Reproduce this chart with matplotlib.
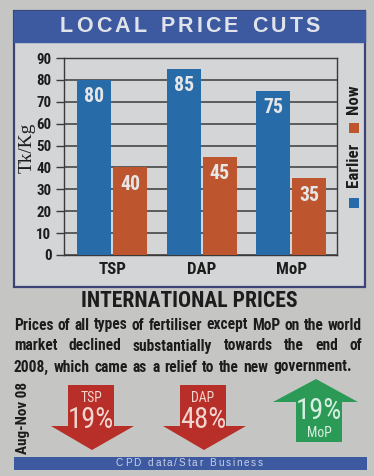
import matplotlib
matplotlib.use("Agg")
import matplotlib.pyplot as plt
from matplotlib.patches import Rectangle, Polygon
from matplotlib import font_manager
import numpy as np

# ---------------- data ----------------
categories = ["TSP", "DAP", "MoP"]
earlier = [80, 85, 75]
now = [40, 45, 35]
yticks = [0, 10, 20, 30, 40, 50, 60, 70, 80, 90]
ylabel = "Tk/Kg"
series_names = ["Earlier", "Now"]

intl_labels = ["TSP", "DAP", "MoP"]
intl_change = [-19, -48, 19]

title = "LOCAL PRICE CUTS"
subtitle = "INTERNATIONAL PRICES"
paragraph = ["Prices of all types of fertiliser except MoP on the world",
             "market declined substantially towards the end of",
             "2008, which came as a relief to the new government."]
period = "Aug-Nov 08"
source = "CPD data/Star Business"

# ---------------- style ----------------
BG = "#c5c6c3"
PANEL = "#d3d5d6"
NAVY = "#3b4377"
BANNER = "#3d5aa0"
BLUE = "#276ca9"
ORANGE = "#bd552e"
RED = "#b82e29"
GREEN = "#2c9a57"
GRID = "#3a3a3a"
TXT = "#1c1c1c"

# pick a condensed sans if one is installed
fl = font_manager.fontManager.ttflist
names = {f.name for f in fl}
NK = None
for cand in ["Liberation Sans Narrow", "Roboto Condensed", "Open Sans Condensed",
             "Noto Sans Condensed", "Arial Narrow"]:
    if cand in names:
        NK = dict(family=cand)
        break
if NK is None:
    if any(f.name == "DejaVu Sans" and f.stretch in ("condensed", "semi-condensed") for f in fl):
        NK = dict(family="DejaVu Sans", stretch="condensed")
    else:
        NK = dict(family="Liberation Sans")
NB = dict(NK, weight="bold")
SANS = dict(family="Liberation Sans")
SERIF = dict(family="Liberation Serif")

W, H = 374, 476
fig = plt.figure(figsize=(W / 100, H / 100), dpi=100)
fig.patch.set_facecolor(BG)

bg = fig.add_axes([0, 0, 1, 1], zorder=0)
bg.set_xlim(0, W)
bg.set_ylim(H, 0)
bg.axis("off")

renderer = fig.canvas.get_renderer()


def width_of(s, size, **kw):
    t = bg.text(0, 0, s, fontsize=size, **kw)
    w = t.get_window_extent(renderer).width
    t.remove()
    return w


def fit(s, target, **kw):
    return 10.0 * target / width_of(s, 10.0, **kw)


def tracked(s, x0, x1, y, size, **kw):
    ws = [width_of(c, size, **kw) if c != " " else width_of("n", size, **kw) * 0.6 for c in s]
    gap = (x1 - x0 - sum(ws)) / (len(s) - 1)
    x = x0
    for c, w in zip(s, ws):
        if c != " ":
            bg.text(x, y, c, ha="left", va="center", fontsize=size, **kw)
        x += w + gap


def justified(s, x0, x1, y, size, **kw):
    words = s.split(" ")
    ws = [width_of(w_, size, **kw) for w_ in words]
    gap = (x1 - x0 - sum(ws)) / (len(words) - 1)
    x = x0
    for w_, w in zip(words, ws):
        bg.text(x, y, w_, ha="left", va="center", fontsize=size, **kw)
        x += w + gap


# chart frame + banner
bg.add_patch(Rectangle((14, 11), 351, 276, fc=PANEL, ec=NAVY, lw=1.6))
bg.add_patch(Rectangle((14, 11), 351, 31, fc=BANNER, ec=BANNER, lw=1))
tracked(title, 60, 320, 27, 15.5, color="#e1e3ea", weight="bold", **SANS)

# ---------------- bar chart ----------------
ax = fig.add_axes([64 / W, 1 - 255 / H, 273 / W, 197 / H], zorder=2)
ax.set_facecolor(PANEL)
x = np.arange(len(categories))
bw = 0.38
off = 0.2
b1 = ax.bar(x - off, earlier, bw, color=BLUE, zorder=3, label=series_names[0])
b2 = ax.bar(x + off, now, bw, color=ORANGE, zorder=3, label=series_names[1])
vsize = fit("80", 20, **NB)
for bars, vals in ((b1, earlier), (b2, now)):
    for r, v in zip(bars, vals):
        ax.text(r.get_x() + r.get_width() / 2, v - 7.6, f"{v}", ha="center", va="center",
                color="#e6e6e6", fontsize=vsize, zorder=4, **NB)
ax.set_xlim(-0.54, 2.51)
ax.set_ylim(0, 90)
ax.set_yticks(yticks)
ysize = fit("90", 15, **NB)
ax.set_yticklabels([str(t) for t in yticks], fontsize=ysize, color=TXT, **NB)
ax.set_xticks(x)
xsize = fit("TSP", 28, **NB)
ax.set_xticklabels(categories, fontsize=xsize, color=TXT, **NB)
ax.tick_params(axis="y", direction="out", length=6, width=1, color=GRID, pad=3)
ax.tick_params(axis="x", length=0, pad=5)
ax.yaxis.grid(True, color=GRID, lw=1.1)
ax.set_axisbelow(True)
for s in ax.spines.values():
    s.set_color(GRID)
    s.set_linewidth(1.0)

bg.text(27, 148, ylabel, rotation=90, ha="center", va="center",
        fontsize=fit(ylabel, 50, **SERIF), color=TXT, **SERIF)

# legend (rotated)
bg.add_patch(Rectangle((349, 198), 10, 10, fc=BLUE, ec="none"))
bg.add_patch(Rectangle((349, 123), 10, 10, fc=ORANGE, ec="none"))
lsize = fit(series_names[0], 44, **NB)
bg.text(354, 165, series_names[0], rotation=90, ha="center", va="center",
        fontsize=lsize, color=TXT, **NB)
bg.text(354, 99, series_names[1], rotation=90, ha="center", va="center",
        fontsize=lsize, color=TXT, **NB)

# ---------------- international section ----------------
bg.text(189, 301, subtitle, ha="center", va="center", fontsize=fit(subtitle, 215, **NB),
        color=TXT, **NB)
line_y = [325, 346, 367]
line_x1 = [362, 362, 352]
psize = min(fit(paragraph[0], 344, **NB), fit(paragraph[2], 334, **NB))
for s, yy, xe in zip(paragraph, line_y, line_x1):
    justified(s, 14, xe, yy, psize, color=TXT, **NB)

bg.text(23, 418, period, rotation=90, ha="center", va="center",
        fontsize=fit(period, 72, **NB), color=TXT, **NB)

centers = [92, 204, 316]
asize = fit("TSP", 22, **NK)
psz = fit("19%", 46, **NK)
for cx, lab, ch in zip(centers, intl_labels, intl_change):
    pct = f"{abs(ch)}%"
    if ch < 0:
        top, head, tip = 385, 426, 450
        pts = [(cx - 24, top), (cx + 22, top), (cx + 22, head), (cx + 42, head),
               (cx, tip), (cx - 41, head), (cx - 24, head)]
        bg.add_patch(Polygon(pts, closed=True, fc=RED, ec="none"))
        bg.text(cx - 1, 398, lab, ha="center", va="center", fontsize=asize,
                color="#f1d6cf", **NK)
        bg.text(cx - 1, 420, pct, ha="center", va="center", fontsize=psz,
                color="#f1d6cf", **NK)
    else:
        tip, head, bot = 379, 402, 442
        pts = [(cx, tip), (cx + 42, head), (cx + 26, head), (cx + 26, bot),
               (cx - 20, bot), (cx - 20, head), (cx - 43, head)]
        bg.add_patch(Polygon(pts, closed=True, fc=GREEN, ec="none"))
        bg.text(cx + 3, 411, pct, ha="center", va="center", fontsize=psz,
                color="#d8efe0", **NK)
        bg.text(cx + 3, 433, lab, ha="center", va="center", fontsize=asize,
                color="#d8efe0", **NK)

# footer
bg.add_patch(Rectangle((14, 457), 353, 13, fc=BANNER, ec="none"))
tracked(source, 116, 263, 463.5, 7.2, color="#c9d0e6", **SANS)

fig.savefig("out.png", dpi=100, facecolor=fig.get_facecolor())
